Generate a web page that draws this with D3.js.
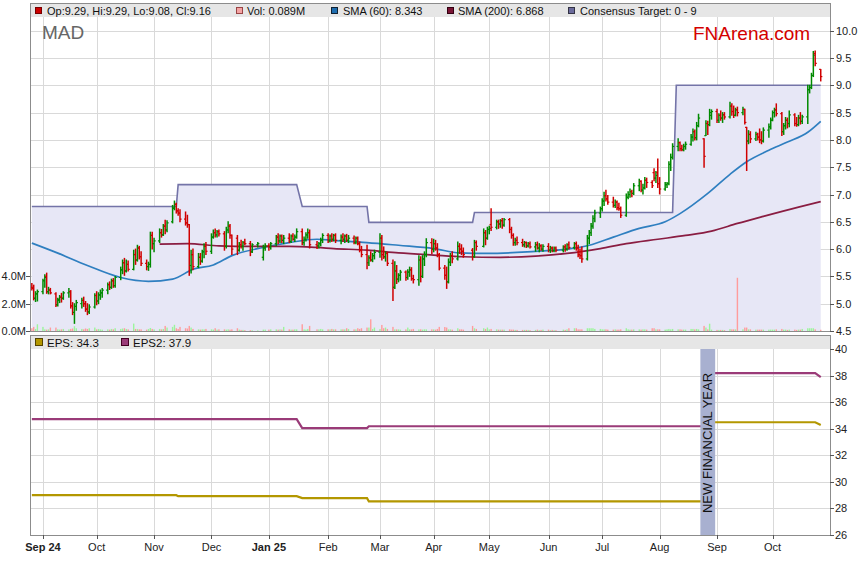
<!DOCTYPE html>
<html><head><meta charset="utf-8">
<script src="https://cdn.jsdelivr.net/npm/d3@7"></script>
<style>
body{margin:0;background:#fff}
svg{display:block}
text{font-family:"Liberation Sans",Arial,sans-serif}
.narrow{font-family:"Liberation Sans Narrow","Arial Narrow","Liberation Sans",Arial,sans-serif}
</style></head>
<body><svg id="c" width="859" height="566"></svg>
<script>
// ---- DATA: daily bars [open, high, low, close, volume(M)] per month ----
const aug24=[[5.30,5.37,5.25,5.28,0.20],[5.30,5.34,5.07,5.10,0.30],[5.10,5.22,5.04,5.18,0.15],[5.18,5.25,5.05,5.22,0.49]];
const sep24=[[5.22,5.45,5.18,5.42,0.30],[5.42,5.53,5.30,5.48,0.12],[5.50,5.56,5.19,5.22,0.10],[5.22,5.30,5.18,5.25,0.12],[5.25,5.28,5.18,5.20,0.25],
[5.18,5.20,4.95,4.98,0.25],[4.98,5.10,4.96,5.08,0.12],[5.06,5.15,5.02,5.12,0.10],[5.12,5.19,5.03,5.10,0.12],[5.10,5.22,5.08,5.20,0.15],
[5.20,5.28,5.12,5.22,0.12],[5.22,5.24,4.92,4.96,0.15],[4.96,5.02,4.80,4.84,0.18],[4.84,5.00,4.64,4.95,0.35],[4.95,5.06,4.88,5.02,0.20],
[5.00,5.10,4.92,5.06,0.15],[5.06,5.12,4.95,5.00,0.12],[5.00,5.04,4.86,4.90,0.18],[4.90,5.00,4.80,4.85,0.15],[4.85,4.98,4.82,4.94,0.20],[4.94,5.18,4.92,5.15,0.25]];
const oct24=[[5.15,5.22,4.98,5.05,0.12],[5.05,5.20,5.00,5.16,0.15],[5.16,5.25,5.08,5.20,0.12],[5.20,5.28,5.12,5.25,0.10],[5.25,5.38,5.18,5.35,0.12],
[5.35,5.40,5.26,5.30,0.10],[5.30,5.45,5.28,5.42,0.15],[5.42,5.46,5.30,5.33,0.12],[5.33,5.50,5.30,5.48,0.20],[5.48,5.67,5.44,5.62,0.15],
[5.62,5.80,5.55,5.75,0.18],[5.75,5.83,5.52,5.60,0.20],[5.60,5.80,5.58,5.72,0.15],[5.72,5.78,5.60,5.63,0.12],[5.63,5.98,5.62,5.90,0.54],
[5.90,6.00,5.72,5.80,0.15],[5.80,6.07,5.78,6.02,0.15],[6.02,6.05,5.82,5.86,0.12],[5.86,5.95,5.70,5.74,0.12],[5.74,5.80,5.62,5.68,0.10],
[5.68,5.76,5.61,5.72,0.15],[5.72,6.31,5.67,6.25,0.22],[6.25,6.31,6.00,6.10,0.15]];
const nov24=[[6.10,6.20,5.95,6.15,0.12],[6.15,6.37,6.12,6.30,0.15],[6.30,6.36,6.22,6.26,0.12],[6.26,6.45,6.25,6.42,0.15],[6.42,6.53,6.28,6.35,0.37],
[6.35,6.52,6.32,6.48,0.25],[6.50,6.80,6.48,6.75,0.30],[6.75,6.88,6.72,6.82,0.45],[6.82,6.84,6.66,6.70,0.20],[6.70,6.74,6.62,6.66,0.15],
[6.66,6.72,6.50,6.55,0.30],[6.55,6.68,6.44,6.48,0.20],[6.48,6.62,6.40,6.45,0.18],[6.45,6.45,5.52,5.70,0.37],[5.70,5.98,5.56,5.90,0.25],
[5.90,6.00,5.62,5.68,0.15],[5.68,5.92,5.66,5.85,0.12],[5.85,5.92,5.72,5.78,0.10],[5.78,5.98,5.76,5.95,0.12],[5.95,6.10,5.84,6.05,0.12],[6.05,6.12,5.90,5.96,0.15]];
const dec24=[[5.96,6.28,5.92,6.22,0.12],[6.22,6.35,6.20,6.30,0.10],[6.30,6.37,6.22,6.26,0.20],[6.26,6.34,6.22,6.32,0.10],[6.32,6.35,6.24,6.28,0.12],
[6.28,6.32,5.98,6.05,0.12],[6.05,6.40,6.02,6.35,0.10],[6.35,6.50,6.30,6.42,0.12],[6.42,6.45,6.20,6.25,0.10],[6.25,6.26,5.90,6.00,0.12],
[6.20,6.25,5.90,5.98,0.20],[5.98,6.12,5.96,6.08,0.10],[6.08,6.16,6.02,6.05,0.08],[6.05,6.14,5.98,6.12,0.08],[6.12,6.18,6.08,6.10,0.06],
[6.10,6.14,5.88,5.95,0.06],[5.95,6.10,5.94,6.08,0.05],[6.08,6.12,6.04,6.10,0.05],[5.85,6.07,5.80,6.02,0.10],[6.02,6.10,5.98,6.06,0.10]];
const jan25=[[6.06,6.10,5.98,6.04,0.10],[6.04,6.12,6.00,6.10,0.12],[6.10,6.25,6.06,6.22,0.12],[6.22,6.28,6.10,6.15,0.10],[6.15,6.26,6.12,6.24,0.12],
[6.24,6.26,6.12,6.16,0.10],[6.16,6.25,6.10,6.20,0.30],[6.20,6.28,6.12,6.14,0.12],[6.14,6.26,6.12,6.24,0.10],[6.24,6.28,6.16,6.18,0.10],
[6.18,6.26,6.14,6.22,0.12],[6.22,6.37,6.20,6.32,0.12],[6.32,6.37,6.08,6.12,0.49],[6.12,6.22,6.07,6.18,0.12],[6.18,6.30,6.15,6.26,0.10],
[6.26,6.37,6.20,6.30,0.15],[6.30,6.35,6.02,6.08,0.37],[6.08,6.14,6.01,6.06,0.12],[6.06,6.12,6.02,6.10,0.12],[6.10,6.20,6.06,6.16,0.15],[6.16,6.28,6.12,6.25,0.12]];
const feb25=[[6.25,6.28,6.12,6.15,0.12],[6.15,6.26,6.13,6.24,0.12],[6.24,6.28,6.14,6.18,0.15],[6.18,6.27,6.15,6.25,0.12],[6.25,6.28,6.12,6.16,0.12],
[6.16,6.26,6.10,6.22,0.12],[6.22,6.28,6.14,6.18,0.12],[6.18,6.26,6.12,6.24,0.12],[6.24,6.27,6.14,6.16,0.20],[6.16,6.25,6.12,6.20,0.15],
[6.20,6.24,6.10,6.12,0.12],[6.12,6.22,6.10,6.20,0.12],[6.20,6.22,6.08,6.10,0.20],[6.10,6.13,5.95,5.98,0.15],[5.98,6.05,5.86,5.90,0.20],
[5.90,6.07,5.64,5.75,0.25],[5.75,5.88,5.70,5.84,0.25],[5.84,5.95,5.78,5.80,0.85],[5.80,5.92,5.77,5.88,0.15],[5.88,5.98,5.82,5.94,0.25]];
const mar25=[[5.94,6.28,5.85,6.20,0.15],[6.20,6.25,5.80,5.90,0.44],[5.90,6.04,5.83,5.86,0.20],[5.86,5.95,5.78,5.92,0.25],[5.92,5.94,5.70,5.74,0.15],
[5.74,5.80,5.06,5.30,0.30],[5.30,5.77,5.28,5.60,0.12],[5.60,5.70,5.37,5.45,0.12],[5.45,5.55,5.40,5.52,0.12],[5.52,5.61,5.43,5.58,0.10],
[5.58,5.60,5.43,5.48,0.12],[5.48,5.62,5.45,5.58,0.25],[5.58,5.67,5.50,5.62,0.12],[5.62,5.66,5.43,5.46,0.12],[5.46,5.52,5.38,5.44,0.15],
[5.44,5.88,5.34,5.80,0.12],[5.80,5.86,5.40,5.50,0.12],[5.50,5.88,5.48,5.82,0.10],[5.82,5.95,5.70,5.90,0.12],[5.90,6.19,5.86,6.12,0.12],[6.12,6.19,5.92,6.00,0.12]];
const apr25=[[6.00,6.18,5.95,6.10,0.12],[6.10,6.16,5.98,6.02,0.10],[6.02,6.10,5.86,5.90,0.15],[5.90,5.92,5.62,5.65,0.30],[5.65,5.70,5.45,5.52,0.29],
[5.52,5.67,5.28,5.40,0.25],[5.40,5.82,5.38,5.76,0.12],[5.76,5.92,5.70,5.88,0.12],[5.88,5.95,5.75,5.82,0.10],[5.82,6.13,5.80,6.05,0.20],
[6.05,6.10,5.92,6.00,0.12],[6.00,6.08,5.90,5.96,0.12],[5.96,6.02,5.85,5.90,0.10],[5.98,6.01,5.80,5.86,0.37],[5.86,6.16,5.85,6.12,0.20],
[6.12,6.15,5.98,6.05,0.15],[6.05,6.37,6.04,6.30,0.20],[6.30,6.34,6.08,6.20,0.15],[6.20,6.40,6.18,6.36,0.25]];
const may25=[[6.36,6.42,6.28,6.38,0.12],[6.45,6.74,6.34,6.40,0.15],[6.40,6.53,6.37,6.50,0.12],[6.50,6.53,6.38,6.46,0.10],[6.46,6.54,6.40,6.52,0.10],
[6.52,6.56,6.38,6.44,0.10],[6.44,6.56,6.42,6.54,0.10],[6.54,6.56,6.30,6.36,0.12],[6.36,6.40,6.20,6.25,0.10],[6.25,6.28,6.07,6.12,0.10],
[6.12,6.20,6.07,6.16,0.08],[6.16,6.22,6.08,6.12,0.08],[6.12,6.18,6.05,6.08,0.08],[6.08,6.14,6.04,6.12,0.08],[6.12,6.13,6.03,6.06,0.08],
[6.06,6.12,6.04,6.10,0.08],[6.10,6.13,6.02,6.04,0.06],[6.04,6.12,5.96,6.08,0.08],[6.08,6.13,6.00,6.02,0.10],[6.02,6.10,5.95,6.06,0.06],
[6.06,6.08,5.98,6.00,0.08],[6.00,6.08,5.96,6.05,0.10]];
const jun25=[[6.05,6.10,5.95,5.98,0.10],[5.98,6.05,5.94,6.02,0.06],[6.02,6.04,5.95,5.97,0.08],[5.97,6.04,5.95,6.02,0.06],[6.02,6.04,5.95,5.98,0.06],
[5.98,6.06,5.95,6.04,0.10],[6.04,6.08,5.96,6.00,0.08],[6.00,6.10,5.98,6.08,0.12],[6.08,6.13,6.00,6.03,0.20],[6.03,6.12,6.00,6.10,0.20],
[6.10,6.13,5.98,6.02,0.20],[6.02,6.07,5.86,5.90,0.12],[5.90,6.00,5.83,5.88,0.12],[5.88,6.04,5.76,5.82,0.12],[5.82,6.25,5.80,6.20,0.20],
[6.20,6.34,6.10,6.30,0.20],[6.30,6.47,6.25,6.42,0.20],[6.42,6.61,6.38,6.56,0.20],[6.56,6.71,6.50,6.66,0.15],[6.66,6.77,6.58,6.74,0.15]];
const jul25=[[6.74,6.92,6.70,6.88,0.12],[6.88,7.04,6.80,6.98,0.12],[6.98,7.08,6.88,6.92,0.12],[6.92,6.98,6.82,6.86,0.10],[6.86,6.95,6.77,6.80,0.10],
[6.80,6.90,6.76,6.86,0.12],[6.86,6.88,6.72,6.76,0.10],[6.76,6.84,6.71,6.74,0.10],[6.74,6.77,6.58,6.62,0.12],[6.62,7.01,6.60,6.95,0.20],
[6.95,7.05,6.92,7.00,0.12],[7.00,7.10,6.95,7.05,0.10],[7.05,7.08,6.96,7.02,0.10],[7.02,7.20,7.00,7.16,0.12],[7.16,7.28,7.07,7.24,0.12],
[7.24,7.25,7.05,7.08,0.10],[7.08,7.19,7.01,7.12,0.12],[7.12,7.31,7.10,7.26,0.12],[7.26,7.30,7.13,7.22,0.10],[7.22,7.25,7.13,7.16,0.20],
[7.40,7.47,7.25,7.30,0.20],[7.30,7.42,7.22,7.35,0.12],[7.40,7.65,7.13,7.20,0.12]];
const aug25=[[7.20,7.31,7.01,7.10,0.12],[7.10,7.22,7.08,7.18,0.10],[7.18,7.22,7.13,7.20,0.12],[7.20,7.60,7.18,7.55,0.15],[7.55,7.74,7.44,7.68,0.12],
[7.68,7.93,7.65,7.88,0.15],[7.88,8.02,7.80,7.95,0.12],[7.95,7.96,7.80,7.84,0.12],[7.84,7.90,7.80,7.82,0.10],[7.82,7.92,7.80,7.88,0.10],
[7.88,7.96,7.83,7.92,0.10],[7.92,8.10,7.90,8.05,0.15],[8.05,8.20,7.98,8.15,0.15],[8.15,8.18,8.00,8.04,0.12],[8.04,8.32,8.00,8.26,0.15],
[8.26,8.47,8.24,8.40,0.12],[8.02,8.02,7.50,7.70,0.37],[8.08,8.35,8.08,8.30,0.25],[8.30,8.34,8.10,8.28,0.12],[8.28,8.56,8.26,8.50,0.53],[8.45,8.55,8.38,8.52,0.10]];
const sep25=[[8.52,8.56,8.32,8.36,0.08],[8.36,8.48,8.32,8.45,0.08],[8.45,8.53,8.36,8.40,0.08],[8.40,8.50,8.32,8.46,0.08],[8.46,8.50,8.38,8.42,0.06],
[8.42,8.69,8.40,8.62,0.15],[8.62,8.66,8.45,8.52,0.12],[8.52,8.62,8.41,8.45,0.12],[8.45,8.58,8.44,8.55,0.12],[8.55,8.60,8.44,8.50,3.87],
[8.50,8.60,8.46,8.56,0.12],[8.56,8.56,8.29,8.32,0.25],[8.23,8.23,7.44,7.98,0.25],[7.98,8.17,7.93,8.10,0.12],[8.10,8.15,7.95,8.02,0.12],
[8.02,8.14,7.99,8.10,0.10],[8.10,8.12,8.00,8.05,0.10],[8.05,8.20,7.95,8.00,0.10],[8.00,8.15,7.93,7.98,0.10],[7.98,8.22,7.96,8.18,0.10],
[8.18,8.29,8.05,8.24,0.10],[8.24,8.40,8.20,8.36,0.10]];
const oct25=[[8.36,8.53,8.35,8.50,0.10],[8.50,8.58,8.42,8.55,0.10],[8.55,8.66,8.44,8.48,0.12],[8.48,8.50,8.08,8.15,0.15],[8.15,8.30,8.10,8.26,0.10],
[8.26,8.41,8.20,8.36,0.10],[8.36,8.40,8.22,8.30,0.08],[8.30,8.53,8.24,8.46,0.10],[8.46,8.48,8.26,8.30,0.10],[8.30,8.41,8.25,8.28,0.08],
[8.28,8.45,8.26,8.40,0.10],[8.40,8.50,8.29,8.34,0.10],[8.34,8.45,8.30,8.42,0.15],[8.42,9.00,8.30,8.92,0.20],[8.92,9.00,8.86,8.96,0.20],
[8.96,9.22,8.94,9.18,0.20],[9.18,9.62,9.16,9.55,0.20],[9.58,9.63,9.36,9.40,0.12],[9.29,9.29,9.08,9.16,0.089]];

const monthData=[[2024,7,aug24],[2024,8,sep24],[2024,9,oct24],[2024,10,nov24],[2024,11,dec24],[2025,0,jan25],[2025,1,feb25],
[2025,2,mar25],[2025,3,apr25],[2025,4,may25],[2025,5,jun25],[2025,6,jul25],[2025,7,aug25],[2025,8,sep25],[2025,9,oct25]];
const holidays=["2024-12-25","2024-12-26","2025-01-01","2025-01-27","2025-04-18","2025-04-21","2025-04-25","2025-06-09"];
const firstDay="2024-08-27", lastDay="2025-10-27";

const sma60=[["2024-08-27",6.11],["2024-09-09",5.94],["2024-09-26",5.70],["2024-10-14",5.48],["2024-10-29",5.41],["2024-11-11",5.45],
["2024-11-22",5.63],["2024-12-03",5.71],["2024-12-13",5.88],["2024-12-30",6.03],["2025-01-13",6.12],["2025-01-28",6.18],["2025-02-06",6.16],
["2025-02-24",6.12],["2025-03-13",6.07],["2025-04-01",6.01],["2025-04-15",5.93],["2025-04-30",5.92],["2025-05-26",5.96],["2025-06-12",6.00],
["2025-06-24",6.07],["2025-07-07",6.22],["2025-07-21",6.38],["2025-08-04",6.50],["2025-08-12",6.65],["2025-08-27",7.02],["2025-09-08",7.37],
["2025-09-17",7.60],["2025-09-29",7.81],["2025-10-09",7.96],["2025-10-20",8.14],["2025-10-27",8.34]];
const sma200=[["2024-11-04",6.09],["2024-11-19",6.10],["2024-12-06",6.06],["2024-12-24",6.05],["2025-01-13",6.05],["2025-01-28",6.03],
["2025-02-06",6.01],["2025-02-24",5.98],["2025-03-13",5.93],["2025-04-01",5.89],["2025-04-17",5.86],["2025-05-07",5.85],["2025-05-26",5.87],
["2025-06-12",5.92],["2025-06-30",6.01],["2025-07-14",6.10],["2025-07-31",6.18],["2025-08-15",6.25],["2025-08-29",6.33],["2025-09-12",6.47],
["2025-09-26",6.60],["2025-10-15",6.77],["2025-10-27",6.87]];
const target=[["2024-08-27",6.78],["2024-11-13",6.78],["2024-11-14",7.18],["2025-01-17",7.18],["2025-01-20",6.78],["2025-02-24",6.78],
["2025-02-25",6.49],["2025-04-22",6.49],["2025-04-23",6.67],["2025-08-08",6.67],["2025-08-10",9.0],["2025-10-27",9.0]];

const epsOld=[["2024-08-27",29.0],["2024-11-13",29.0],["2024-11-14",28.93],["2025-01-17",28.93],["2025-01-20",28.78],["2025-02-24",28.78],["2025-02-25",28.53],["2025-08-29",28.53]];
const epsNew=[["2025-08-29",34.5],["2025-10-24",34.5],["2025-10-27",34.3]];
const eps2Old=[["2024-08-27",34.73],["2025-01-17",34.73],["2025-01-20",34.06],["2025-02-24",34.06],["2025-02-25",34.2],["2025-08-29",34.2]];
const eps2New=[["2025-08-29",38.2],["2025-10-24",38.2],["2025-10-27",37.9]];
const fyBand=["2025-08-23","2025-08-31"];

const priceTicks=[4.5,5.0,5.5,6.0,6.5,7.0,7.5,8.0,8.5,9.0,9.5,10.0];
const volTicks=[0,2,4];
const epsTicks=[26,28,30,32,34,36,38,40];
const monthTicks=[["2024-09-02","Sep 24",true],["2024-10-01","Oct",false],["2024-11-01","Nov",false],["2024-12-02","Dec",false],
["2025-01-02","Jan 25",true],["2025-02-03","Feb",false],["2025-03-03","Mar",false],["2025-04-01","Apr",false],["2025-05-01","May",false],
["2025-06-02","Jun",false],["2025-07-01","Jul",false],["2025-08-01","Aug",false],["2025-09-01","Sep",false],["2025-10-01","Oct",false]];

// ---- build dated bars ----
const parse=d3.utcParse("%Y-%m-%d"), fmt=d3.utcFormat("%Y-%m-%d");
const hol=new Set(holidays);
const bars=[];
monthData.forEach(([yr,mo,arr])=>{
  const days=[];
  for(let d=new Date(Date.UTC(yr,mo,1)); d.getUTCMonth()===mo; d=new Date(d.getTime()+864e5)){
    const s=fmt(d), wd=d.getUTCDay();
    if(wd===0||wd===6||hol.has(s)||s<firstDay||s>lastDay) continue;
    days.push(d);
  }
  if(days.length!==arr.length) console.warn("count mismatch",yr,mo,days.length,arr.length);
  const n=Math.min(days.length,arr.length);
  for(let i=0;i<n;i++){const [o,h,l,c,v]=arr[i]; bars.push({date:days[i],o,h,l,c,v});}
});

// ---- scales ----
const svg=d3.select("#c");
const L=30,R=830;
const x=d3.scaleUtc().domain([parse("2024-08-26"),parse("2025-11-01")]).range([L,R]);
const yP=d3.scaleLinear().domain([4.5,10]).range([331,30.7]);
const yV=d3.scaleLinear().domain([0,4]).range([331,276]);
const yE=d3.scaleLinear().domain([26,40]).range([535,349.3]);
const pts=a=>a.map(([d,v])=>[parse(d),v]);

svg.append("rect").attr("width",859).attr("height",566).attr("fill","#fff");

// ================= MAIN PANEL =================
const M=svg.append("g");
M.append("rect").attr("x",L).attr("y",3).attr("width",R-L).attr("height",14).attr("fill","#e6e6e6");
// grid
M.selectAll(".hg").data(priceTicks).join("line").attr("x1",L).attr("x2",R)
 .attr("y1",d=>Math.round(yP(d))+0.5).attr("y2",d=>Math.round(yP(d))+0.5).attr("stroke","#d9d9d9");
M.selectAll(".vg").data(monthTicks).join("line")
 .attr("x1",d=>Math.round(x(parse(d[0])))+0.5).attr("x2",d=>Math.round(x(parse(d[0])))+0.5)
 .attr("y1",17).attr("y2",331).attr("stroke","#d9d9d9");
// consensus target area + line
const tp=pts(target);
M.append("path").datum(tp).attr("fill","#e7e7f6")
 .attr("d",d3.area().x(d=>x(d[0])).y0(yP(4.5)).y1(d=>yP(d[1])));
M.append("path").datum(tp).attr("fill","none").attr("stroke","#7474a8").attr("stroke-width",1.6)
 .attr("d",d3.line().x(d=>x(d[0])).y(d=>yP(d[1])));
// volume
M.selectAll(".vol").data(bars).join("rect")
 .attr("x",d=>x(d.date)-0.7).attr("width",1.4)
 .attr("y",d=>yV(d.v)).attr("height",d=>yV(0)-yV(d.v))
 .attr("fill",d=>d.c<d.o?"#ff9c9c":"#9cf59c");
// SMAs
const ln=d3.line().x(d=>x(d[0])).y(d=>yP(d[1])).curve(d3.curveMonotoneX);
M.append("path").datum(pts(sma60)).attr("fill","none").attr("stroke","#2f7fc0").attr("stroke-width",1.7).attr("d",ln);
M.append("path").datum(pts(sma200)).attr("fill","none").attr("stroke","#8a1d42").attr("stroke-width",1.7).attr("d",ln);
// OHLC bars
const bg=M.append("g").selectAll("g").data(bars).join("g")
 .attr("stroke",d=>d.c<d.o?"#d00000":"#008a00").attr("stroke-width",1.5);
bg.append("line").attr("x1",d=>x(d.date)).attr("x2",d=>x(d.date)).attr("y1",d=>yP(d.h)-0.5).attr("y2",d=>yP(d.l)+0.5);
bg.append("line").attr("x1",d=>x(d.date)-1.6).attr("x2",d=>x(d.date)).attr("y1",d=>yP(d.o)).attr("y2",d=>yP(d.o)).attr("stroke-width",1.2);
bg.append("line").attr("x1",d=>x(d.date)).attr("x2",d=>x(d.date)+1.6).attr("y1",d=>yP(d.c)).attr("y2",d=>yP(d.c)).attr("stroke-width",1.2);
// border
M.append("rect").attr("x",L+0.5).attr("y",3.5).attr("width",R-L).attr("height",328).attr("fill","none").attr("stroke","#8c8c8c");
// right price axis
const ra=M.append("g");
ra.selectAll("line").data(priceTicks).join("line").attr("x1",R).attr("x2",R+4)
 .attr("y1",d=>Math.round(yP(d))+0.5).attr("y2",d=>Math.round(yP(d))+0.5).attr("stroke","#555");
ra.selectAll("text").data(priceTicks).join("text").attr("x",R+6).attr("y",d=>yP(d)+4)
 .attr("font-size",11).attr("fill","#222").text(d=>d3.format(".1f")(d));
// left volume axis
const la=M.append("g");
la.selectAll("line").data(volTicks).join("line").attr("x1",L-4).attr("x2",L)
 .attr("y1",d=>Math.round(yV(d))+0.5).attr("y2",d=>Math.round(yV(d))+0.5).attr("stroke","#555");
la.selectAll("text").data(volTicks).join("text").attr("x",L-4).attr("y",d=>yV(d)+4).attr("text-anchor","end")
 .attr("font-size",11).attr("fill","#222").text(d=>d3.format(".1f")(d)+"M");
// legend
const legMain=[[35,47,"#cc0000","#700","Op:9.29, Hi:9.29, Lo:9.08, Cl:9.16"],[236,247,"#f4a4a4","#944","Vol: 0.089M"],
 [331,343,"#1f6eb0","#123","SMA (60): 8.343"],[447,458,"#7a1535","#301","SMA (200): 6.868"],[568,580,"#6b6b9c","#334","Consensus Target: 0 - 9"]];
legMain.forEach(([sx,tx,c,sc,t])=>{
  M.append("rect").attr("x",sx+0.5).attr("y",7.5).attr("width",6).attr("height",6).attr("fill",c).attr("stroke",sc);
  M.append("text").attr("x",tx).attr("y",14.5).attr("font-size",11).attr("fill","#111").text(t);
});
M.append("text").attr("x",42).attr("y",39).attr("font-size",19).attr("fill","#666").text("MAD");
M.append("text").attr("x",693).attr("y",39.5).attr("font-size",19).attr("fill","#d40000").text("FNArena.com");

// ================= EPS PANEL =================
const E=svg.append("g");
const ET=335, EB=535;
E.append("rect").attr("x",L).attr("y",ET).attr("width",R-L).attr("height",14).attr("fill","#e6e6e6");
E.selectAll(".hg").data(epsTicks.filter(d=>d>26&&d<40)).join("line").attr("x1",L).attr("x2",R)
 .attr("y1",d=>Math.round(yE(d))+0.5).attr("y2",d=>Math.round(yE(d))+0.5).attr("stroke","#d9d9d9");
E.selectAll(".vg").data(monthTicks).join("line")
 .attr("x1",d=>Math.round(x(parse(d[0])))+0.5).attr("x2",d=>Math.round(x(parse(d[0])))+0.5)
 .attr("y1",349).attr("y2",EB).attr("stroke","#d9d9d9");
const el=d3.line().x(d=>x(d[0])).y(d=>yE(d[1]));
[[epsOld,"#b39700"],[epsNew,"#b39700"],[eps2Old,"#9a3b78"],[eps2New,"#9a3b78"]].forEach(([a,c])=>{
  E.append("path").datum(pts(a)).attr("fill","none").attr("stroke",c).attr("stroke-width",2.2).attr("d",el);
});
const bx0=x(parse(fyBand[0])), bx1=x(parse(fyBand[1]));
E.append("rect").attr("x",bx0).attr("y",349).attr("width",bx1-bx0).attr("height",EB-349).attr("fill","#a8b0d0");
E.append("text").attr("transform",`translate(${(bx0+bx1)/2+4.5},443) rotate(-90)`).attr("text-anchor","middle")
 .attr("font-size",13).attr("fill","#111").text("NEW FINANCIAL YEAR");
E.append("rect").attr("x",L+0.5).attr("y",ET+0.5).attr("width",R-L).attr("height",EB-ET).attr("fill","none").attr("stroke","#8c8c8c");
const era=E.append("g");
era.selectAll("line").data(epsTicks).join("line").attr("x1",R).attr("x2",R+4)
 .attr("y1",d=>Math.round(yE(d))+0.5).attr("y2",d=>Math.round(yE(d))+0.5).attr("stroke","#555");
era.selectAll("text").data(epsTicks).join("text").attr("x",R+5).attr("y",d=>yE(d)+4)
 .attr("font-size",11).attr("fill","#222").text(d=>d);
[[35,47,"#b39700","#540","EPS: 34.3"],[121,133,"#9a3b78","#402","EPS2: 37.9"]].forEach(([sx,tx,c,sc,t])=>{
  E.append("rect").attr("x",sx+0.5).attr("y",338.5).attr("width",7).attr("height",7).attr("fill",c).attr("stroke",sc);
  E.append("text").attr("x",tx).attr("y",346.5).attr("font-size",11.5).attr("fill","#111").text(t);
});
// x axis
const xa=svg.append("g");
xa.selectAll("line").data(monthTicks).join("line")
 .attr("x1",d=>Math.round(x(parse(d[0])))+0.5).attr("x2",d=>Math.round(x(parse(d[0])))+0.5)
 .attr("y1",EB).attr("y2",EB+4).attr("stroke","#555");
xa.selectAll("text").data(monthTicks).join("text").attr("class","narrow")
 .attr("x",d=>x(parse(d[0]))).attr("y",EB+16).attr("text-anchor","middle")
 .attr("font-size",11).attr("font-weight",d=>d[2]?"bold":"normal").attr("fill","#222").text(d=>d[1]);
</script>
</body></html>
